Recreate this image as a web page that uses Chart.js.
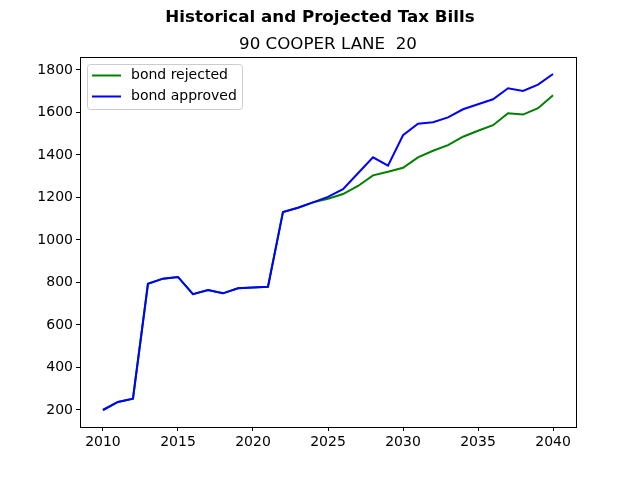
<!DOCTYPE html>
<html>
<head>
<meta charset="utf-8">
<script src="https://cdn.jsdelivr.net/npm/chart.js@4/dist/chart.umd.min.js"></script>
<style>
  body { margin: 0; background: #fff; }
</style>
</head>
<body>
<canvas id="chart" width="640" height="480"></canvas>
<script>
const years = [2010, 2011, 2012, 2013, 2014, 2015, 2016, 2017, 2018, 2019, 2020,
    2021, 2022, 2023, 2024, 2025, 2026, 2027, 2028, 2029, 2030,
    2031, 2032, 2033, 2034, 2035, 2036, 2037, 2038, 2039, 2040];
const bondRejected = [200, 238, 253, 794, 818, 826, 745, 765, 749, 773, 776,
    780, 1132, 1152, 1177, 1194, 1216, 1254, 1304, 1321, 1340,
    1389, 1420, 1446, 1486, 1514, 1540, 1596, 1590, 1620, 1681];
const bondApproved = [200, 238, 253, 794, 818, 826, 745, 765, 749, 773, 776,
    780, 1132, 1152, 1177, 1203, 1239, 1314, 1389, 1350, 1493,
    1547, 1554, 1577, 1615, 1639, 1662, 1714, 1701, 1731, 1781];
const xTicks = [2010, 2015, 2020, 2025, 2030, 2035, 2040];
const yTicks = [200, 400, 600, 800, 1000, 1200, 1400, 1600, 1800];
const suptitle = "Historical and Projected Tax Bills";
const axTitle = "90 COOPER LANE  20";

const font = "'DejaVu Sans', sans-serif";

function points(vals) {
    return years.map(function (y, i) { return { x: y, y: vals[i] }; });
}

// figure title centred on the page, axes title centred on the plot
const titles = {
    id: "titles",
    afterDraw(chart) {
        const a = chart.chartArea, ctx = chart.ctx;
        ctx.save();
        ctx.fillStyle = "#000";
        ctx.textAlign = "center";
        ctx.textBaseline = "alphabetic";
        ctx.font = "bold 16.7px " + font;
        ctx.fillText(suptitle, chart.width / 2, 22);
        ctx.font = "16.7px " + font;
        ctx.fillText(axTitle, (a.left + a.right) / 2, 48.5);
        ctx.restore();
    }
};

// full box around the axes, like matplotlib
const frame = {
    id: "frame",
    afterDatasetsDraw(chart) {
        const a = chart.chartArea, ctx = chart.ctx;
        const l = Math.round(a.left), t = Math.round(a.top);
        const r = Math.round(a.right), b = Math.round(a.bottom);
        ctx.save();
        ctx.strokeStyle = "#000";
        ctx.lineWidth = 1;
        ctx.strokeRect(l + 0.5, t + 0.5, r - l, b - t);
        ctx.restore();
    }
};

// legend drawn inside the plot, upper left
const innerLegend = {
    id: "innerLegend",
    afterDraw(chart) {
        const a = chart.chartArea, ctx = chart.ctx;
        const x = a.left + 7, y = a.top + 7, w = 155, h = 45, r = 3;
        ctx.save();
        ctx.fillStyle = "rgba(255,255,255,0.8)";
        ctx.strokeStyle = "#cccccc";
        ctx.lineWidth = 1;
        ctx.beginPath();
        ctx.roundRect(x + 0.5, y + 0.5, w, h, r);
        ctx.fill();
        ctx.stroke();
        ctx.font = "14px " + font;
        ctx.textBaseline = "middle";
        chart.data.datasets.forEach(function (ds, i) {
            const ly = y + 11.5 + i * 21;
            ctx.strokeStyle = ds.borderColor;
            ctx.lineWidth = 2;
            ctx.beginPath();
            ctx.moveTo(x + 5, ly);
            ctx.lineTo(x + 34, ly);
            ctx.stroke();
            ctx.fillStyle = "#000";
            ctx.fillText(ds.label, x + 44, ly);
        });
        ctx.restore();
    }
};

new Chart(document.getElementById("chart"), {
    type: "line",
    data: {
        datasets: [{
            label: "bond rejected",
            data: points(bondRejected),
            borderColor: "#008000",
            borderWidth: 2,
            pointRadius: 0,
            tension: 0,
            order: 1
        }, {
            label: "bond approved",
            data: points(bondApproved),
            borderColor: "#0000ff",
            borderWidth: 2,
            pointRadius: 0,
            tension: 0,
            order: 0
        }]
    },
    options: {
        responsive: false,
        animation: false,
        layout: { padding: { left: 0, right: 64, bottom: 23, top: 57 } },
        plugins: {
            legend: { display: false },
            tooltip: { enabled: false },
            title: { display: false }
        },
        scales: {
            x: {
                type: "linear",
                min: 2008.47,
                max: 2041.53,
                afterBuildTicks(scale) { scale.ticks = xTicks.map(function (v) { return { value: v }; }); },
                afterFit(scale) { scale.height = 30; },
                grid: { drawOnChartArea: false, drawTicks: true, tickLength: 4, color: "#000" },
                border: { display: false },
                ticks: {
                    color: "#000",
                    padding: 3,
                    maxRotation: 0,
                    font: { family: font, size: 14 },
                    callback: function (v) { return String(v); }
                }
            },
            y: {
                type: "linear",
                min: 120,
                max: 1861,
                afterBuildTicks(scale) { scale.ticks = yTicks.map(function (v) { return { value: v }; }); },
                afterFit(scale) { scale.width = 80; },
                grid: { drawOnChartArea: false, drawTicks: true, tickLength: 4, color: "#000" },
                border: { display: false },
                ticks: {
                    color: "#000",
                    padding: 3,
                    font: { family: font, size: 14 },
                    callback: function (v) { return String(v); }
                }
            }
        }
    },
    plugins: [frame, innerLegend, titles]
});
</script>
</body>
</html>
